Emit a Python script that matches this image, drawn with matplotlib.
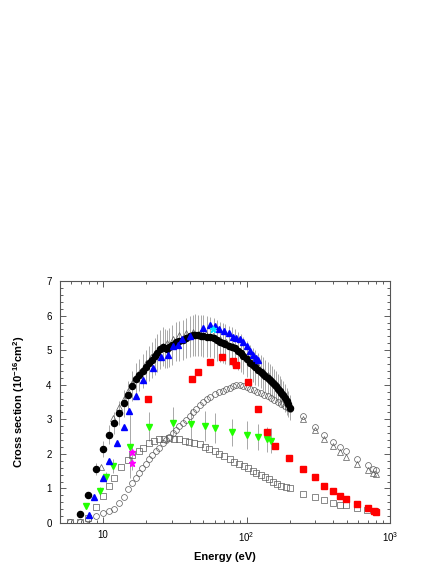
import matplotlib
matplotlib.use("Agg")
import matplotlib.pyplot as plt
from matplotlib.ticker import FixedLocator, FixedFormatter, MultipleLocator, LogLocator, NullFormatter

plt.rcParams['font.family'] = ['Liberation Sans', 'DejaVu Sans']
plt.rcParams['mathtext.fontset'] = 'custom'
plt.rcParams['mathtext.rm'] = 'Liberation Sans'
plt.rcParams['mathtext.bf'] = 'Liberation Sans:bold'

# --- data (energy in eV, cross section in 1e-16 cm^2) ---
black_E = [6.9, 7.9, 8.9, 10, 10.9, 11.9, 12.9, 13.9, 14.9, 15.9, 16.9, 17.9, 18.9, 19.9,
           20.9, 21.9, 22.9, 23.9, 24.9, 26, 27, 28, 29, 30, 32, 34, 36, 38, 40, 42, 44, 46,
           48, 50, 53, 56, 59, 62, 65, 68, 71, 75, 79, 83, 87, 91, 95, 100, 105, 110, 115,
           120, 125, 130, 135, 140, 145, 150, 155, 160, 165, 170, 175, 180, 185, 190, 195, 200]
black_s = [0.25, 0.82, 1.57, 2.13, 2.56, 2.90, 3.19, 3.46, 3.69, 3.96, 4.16, 4.28, 4.40, 4.52,
           4.62, 4.72, 4.82, 4.92, 5.02, 5.10, 5.05, 5.04, 5.08, 5.15, 5.25, 5.27, 5.30, 5.35,
           5.40, 5.43, 5.44, 5.43, 5.42, 5.41, 5.39, 5.38, 5.35, 5.28, 5.24, 5.21, 5.18, 5.13,
           5.10, 5.05, 4.98, 4.92, 4.84, 4.74, 4.64, 4.57, 4.50, 4.44, 4.38, 4.32, 4.26, 4.20,
           4.14, 4.08, 4.02, 3.95, 3.88, 3.82, 3.76, 3.69, 3.61, 3.52, 3.43, 3.34]
black_rel_err = 0.11

otri_E = [9.7, 11.8, 12.9, 13.9, 14.9, 15.9, 16.9, 17.9, 18.9, 20, 21.5, 23, 24.5, 26, 28,
          30.5, 34, 38, 42, 47, 52, 58, 65, 72, 80, 90, 100, 110, 120, 130, 140, 150, 160,
          170, 180, 190, 200, 246, 299, 347, 398, 447, 497, 593, 697, 765, 796]
otri_s = [1.61, 3.05, 3.36, 3.60, 3.82, 4.04, 4.21, 4.34, 4.46, 4.63, 4.79, 4.90, 5.02, 5.12,
          5.21, 5.31, 5.43, 5.50, 5.53, 5.50, 5.47, 5.42, 5.33, 5.24, 5.13, 4.99, 4.84, 4.68,
          4.53, 4.40, 4.27, 4.14, 4.00, 3.87, 3.74, 3.58, 3.42, 3.00, 2.69, 2.43, 2.23, 2.06,
          1.92, 1.71, 1.53, 1.44, 1.42]

ocirc_E = [5.9, 6.9, 7.9, 8.9, 9.9, 10.9, 11.9, 12.8, 13.9, 14.8, 15.9, 16.9, 17.8, 18.8, 19.9,
           21, 22, 23.3, 24.5, 26, 27.5, 29, 30.5, 32, 34, 36, 38, 40, 42, 44.5, 47, 50, 53,
           56, 60, 64, 68, 72, 76, 80, 85, 90, 95, 100, 106, 112, 118, 125, 132, 140, 148,
           156, 165, 175, 185, 195, 200, 246, 299, 347, 398, 447, 497, 593, 697, 765, 796]
ocirc_s = [0.02, 0.03, 0.12, 0.20, 0.28, 0.35, 0.40, 0.57, 0.76, 0.97, 1.17, 1.29, 1.44, 1.58,
           1.72, 1.86, 1.98, 2.08, 2.18, 2.30, 2.40, 2.50, 2.59, 2.68, 2.80, 2.90, 2.99, 3.10,
           3.20, 3.30, 3.40, 3.50, 3.58, 3.65, 3.72, 3.78, 3.83, 3.88, 3.92, 3.96, 3.99, 4.00,
           3.97, 3.93, 3.88, 3.84, 3.80, 3.76, 3.71, 3.66, 3.61, 3.56, 3.50, 3.44, 3.38, 3.32,
           3.29, 3.09, 2.78, 2.54, 2.35, 2.21, 2.08, 1.84, 1.68, 1.56, 1.53]

osq_E = [5.9, 6.9, 7.9, 8.9, 9.9, 10.9, 11.9, 13.3, 14.8, 15.9, 17.8, 19, 20.9, 22.5, 24.6,
         26.5, 28.9, 31, 34, 37, 39.9, 43, 47, 51, 55, 60, 64.7, 70, 76, 82, 89, 96, 103,
         110, 117, 125, 134, 143, 153, 163, 175, 187, 200, 246, 299, 347, 398, 450, 497, 590,
         690, 785]
osq_s = [0.02, 0.03, 0.15, 0.47, 0.78, 1.07, 1.30, 1.63, 1.82, 1.97, 2.08, 2.18, 2.30, 2.36,
         2.42, 2.44, 2.45, 2.44, 2.42, 2.38, 2.35, 2.31, 2.28, 2.20, 2.13, 2.07, 2.01, 1.93,
         1.84, 1.77, 1.71, 1.64, 1.58, 1.51, 1.44, 1.38, 1.32, 1.26, 1.19, 1.13, 1.08, 1.04,
         1.00, 0.84, 0.76, 0.67, 0.59, 0.53, 0.51, 0.42, 0.39, 0.36]

blue_E = [8.0, 8.7, 10.0, 11.0, 12.5, 13.9, 15.2, 16.9, 19.0, 22.1, 25.3, 28.5, 30.5, 33.0,
          35.7, 40.5, 50, 55.5, 60, 64.7, 70, 75, 80, 85, 90, 94, 100, 105, 111, 117, 121]
blue_s = [0.23, 0.76, 1.31, 1.79, 2.32, 2.78, 3.24, 3.68, 4.15, 4.48, 4.79, 4.87, 5.13, 5.14,
          5.33, 5.40, 5.64, 5.73, 5.70, 5.60, 5.56, 5.51, 5.38, 5.36, 5.32, 5.24, 5.12, 4.98,
          4.85, 4.76, 4.71]

red_E = [20.6, 41.4, 45.9, 55.7, 66.9, 80, 85, 103, 120, 139, 159, 197, 247, 299, 347, 398,
         450, 497, 593, 697, 776, 796]
red_s = [3.59, 4.17, 4.37, 4.65, 4.79, 4.70, 4.56, 4.08, 3.30, 2.62, 2.23, 1.87, 1.56, 1.32,
         1.08, 0.93, 0.78, 0.68, 0.55, 0.44, 0.36, 0.33]

green_E = [7.6, 9.5, 10.4, 11.8, 15.4, 21, 30.5, 41, 51.6, 60.6, 79.4, 100, 120, 139, 149]
green_s = [0.49, 0.93, 1.32, 1.66, 2.21, 2.78, 2.90, 2.86, 2.80, 2.74, 2.62, 2.54, 2.49, 2.42, 2.38]
green_err = [0.08, 0.12, 0.15, 0.2, 0.9, 0.42, 0.45, 0.44, 0.44, 0.43, 0.4, 0.4, 0.38, 0.37, 0.36]

mag_E = [15.8, 15.8]
mag_s = [2.06, 1.73]
mag_err = [0.2, 0.2]

cyan_E = [58]
cyan_s = [5.6]

fig = plt.figure(figsize=(4.36, 5.64), dpi=100)
ax = fig.add_axes([0.1376, 0.0727, 0.757, 0.429])

grey = '#a8a8a8'
edge = '#5a5a5a'

# error bars
black_err = [v * black_rel_err for v in black_s]
ax.errorbar(black_E, black_s, yerr=black_err, fmt='none', ecolor=grey, elinewidth=0.7, zorder=1)
ax.errorbar(green_E, green_s, yerr=green_err, fmt='none', ecolor=grey, elinewidth=0.7, zorder=1)
ax.errorbar(mag_E, mag_s, yerr=mag_err, fmt='none', ecolor=grey, elinewidth=0.7, zorder=1)

ax.plot(osq_E, osq_s, 's', ms=4.2, mfc='none', mec=edge, mew=0.5, zorder=2)
ax.plot(ocirc_E, ocirc_s, 'o', ms=4.2, mfc='none', mec=edge, mew=0.5, zorder=2)
ax.plot(otri_E, otri_s, '^', ms=4.2, mfc='none', mec=edge, mew=0.5, zorder=2)
ax.plot(black_E, black_s, 'o', ms=4.4, color='black', zorder=3)
ax.plot(green_E, green_s, 'v', ms=4.5, color='#22ff00', zorder=4)
ax.plot(red_E, red_s, 's', ms=4.2, color='#ff0000', zorder=4)
ax.plot(blue_E, blue_s, '^', ms=4.4, color='#0000ff', zorder=5)
ax.plot(mag_E, mag_s, '*', ms=5, color='#ff00ff', zorder=5)
ax.plot(cyan_E, cyan_s, '*', ms=5, color='#00e5ff', zorder=5)

ax.set_xscale('log')
ax.set_xlim(5, 1000)
ax.set_ylim(0, 7)

ax.xaxis.set_major_locator(FixedLocator([10, 100, 1000]))
ax.xaxis.set_major_formatter(FixedFormatter(['10', r'10$^2$', r'10$^3$']))
ax.xaxis.set_minor_locator(LogLocator(base=10, subs=range(2, 10)))
ax.xaxis.set_minor_formatter(NullFormatter())
ax.yaxis.set_major_locator(MultipleLocator(1))
ax.yaxis.set_minor_locator(MultipleLocator(0.2))

ax.tick_params(which='both', direction='in', top=True, right=True, labelsize=7,
               color='#444444', width=0.6)
ax.tick_params(which='major', length=4, pad=6)
ax.tick_params(which='minor', length=2)
ax.tick_params(axis='x', which='major', pad=5)
for sp in ax.spines.values():
    sp.set_color('#555555')
    sp.set_linewidth(0.8)

ax.set_xlabel('Energy (eV)', fontsize=8, fontweight='bold', labelpad=6)
ax.set_ylabel(r'Cross section (10$^{\mathbf{-16}}$cm$^{\mathbf{2}}$)', fontsize=8,
              fontweight='bold', labelpad=14)

fig.savefig('out.png', dpi=100)
